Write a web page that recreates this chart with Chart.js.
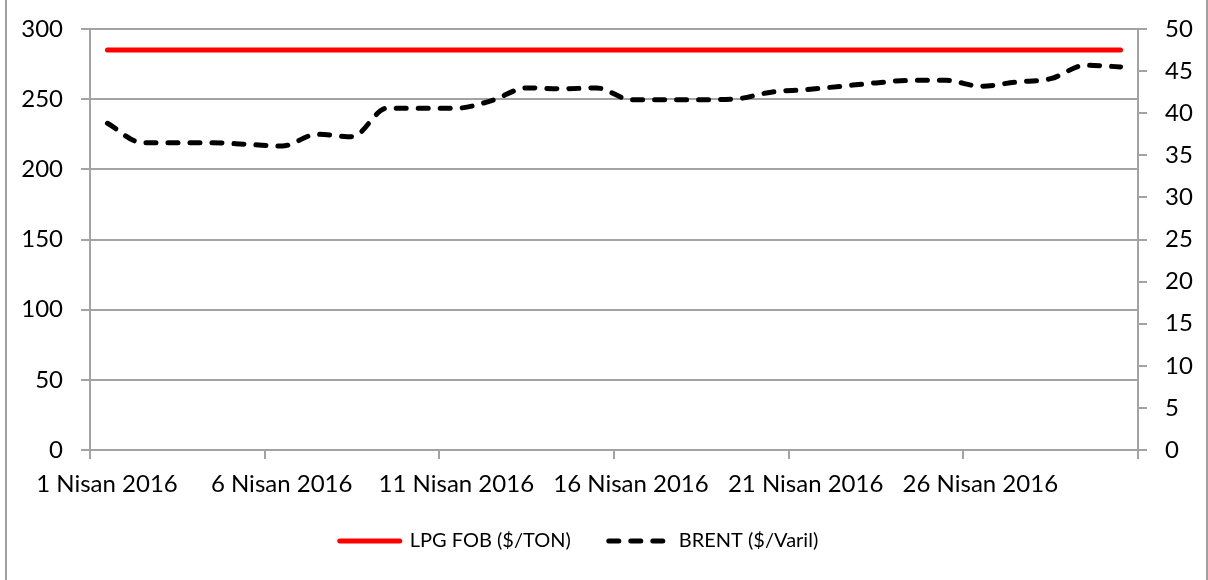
<!DOCTYPE html>
<html>
<head>
<meta charset="utf-8">
<script src="https://cdn.jsdelivr.net/npm/chart.js@4.4.1/dist/chart.umd.min.js"></script>
<style>
  html,body{margin:0;padding:0;background:#fff;}
  #wrap{position:relative;width:1208px;height:580px;}
  #frame{position:absolute;left:5px;top:0;width:1199px;height:580px;border-left:2px solid #a0a0a0;border-right:2px solid #a0a0a0;pointer-events:none;}
</style>
</head>
<body>
<div id="wrap">
  <canvas id="chart" width="1208" height="580"></canvas>
  <div id="frame"></div>
</div>
<script>
  // Nisan 2016, one value per day
  const days = [1,2,3,4,5,6,7,8,9,10,11,12,13,14,15,16,17,18,19,20,21,22,23,24,25,26,27,28,29,30];
  const lpgFob = [285,285,285,285,285,285,285,285,285,285,285,285,285,285,285,285,285,285,285,285,285,285,285,285,285,285,285,285,285,285];
  const brent = [38.8,36.5,36.5,36.5,36.3,36.1,37.5,37.2,40.6,40.6,40.6,41.5,43.0,42.9,43.0,41.6,41.6,41.6,41.7,42.5,42.8,43.2,43.6,43.9,43.9,43.2,43.7,44.1,45.7,45.5];
  const seriesNames = ['LPG FOB ($/TON)', 'BRENT ($/Varil)'];
  const monthLabel = 'Nisan 2016';

  const font = { family: "Lato, 'Open Sans', sans-serif", size: 24 };
  const legendFont = { family: font.family, size: 20 };
  const gridColor = '#a3a3a3';

  const toPoints = (vals)=> days.map((d,i)=> ({ x: d - 0.5, y: vals[i] }));

  // default legend labels lose the dash when usePointStyle is on, put it back
  function legendLabels(chart){
    const base = Chart.defaults.plugins.legend.labels.generateLabels(chart);
    return base.map(l=>{
      const ds = chart.data.datasets[l.datasetIndex];
      return Object.assign(l, { lineDash: ds.borderDash || [], lineCap: 'round', lineWidth: 5, strokeStyle: ds.borderColor });
    });
  }

  // legend sits a bit left of the canvas centre in the original
  const legendShift = {
    id: 'legendShift',
    afterLayout(chart){ if(chart.legend){ chart.legend.right -= 50; } }
  };

  // fixed axis width, and no extra room asked for above/below the end labels
  const fitY = (w)=> (s)=>{ s.width = w; s.paddingTop = 0; s.paddingBottom = 0; };

  new Chart(document.getElementById('chart'), {
    type: 'line',
    plugins: [legendShift],
    data: {
      datasets: [
        {
          label: seriesNames[0],
          data: toPoints(lpgFob),
          yAxisID: 'y',
          borderColor: '#ff0000',
          backgroundColor: '#ff0000',
          borderWidth: 5,
          borderCapStyle: 'round',
          pointRadius: 0,
          tension: 0
        },
        {
          label: seriesNames[1],
          data: toPoints(brent),
          yAxisID: 'y1',
          borderColor: '#000000',
          backgroundColor: '#000000',
          borderWidth: 5,
          borderDash: [10, 12],
          borderCapStyle: 'round',
          pointRadius: 0,
          cubicInterpolationMode: 'monotone'
        }
      ]
    },
    options: {
      responsive: false,
      animation: false,
      layout: { padding: { top: 29, left: 0, right: 0, bottom: 19 } },
      plugins: {
        tooltip: { enabled: false },
        legend: {
          position: 'bottom',
          labels: {
            color: '#000',
            font: legendFont,
            usePointStyle: true,
            pointStyle: 'line',
            pointStyleWidth: 60,
            padding: 38,
            generateLabels: legendLabels
          }
        }
      },
      scales: {
        x: {
          type: 'linear',
          min: 0,
          max: 30,
          afterFit: (s)=>{ s.height = 43; },
          border: { color: gridColor, width: 2 },
          grid: { drawOnChartArea: false, drawTicks: true, tickLength: 9, color: gridColor, lineWidth: 2 },
          ticks: {
            stepSize: 5,
            autoSkip: false,
            maxRotation: 0,
            padding: 11,
            labelOffset: 17,
            color: '#000',
            font,
            callback: (v)=> v >= 30 ? '' : `${v + 1} ${monthLabel}`
          }
        },
        y: {
          position: 'left',
          min: 0,
          max: 300,
          afterFit: fitY(90),
          border: { color: gridColor, width: 2 },
          grid: { color: gridColor, lineWidth: 2, tickLength: 9 },
          ticks: { stepSize: 50, padding: 18, color: '#000', font }
        },
        y1: {
          position: 'right',
          min: 0,
          max: 50,
          afterFit: fitY(70),
          border: { color: gridColor, width: 2 },
          grid: { drawOnChartArea: false, color: gridColor, lineWidth: 2, tickLength: 9 },
          ticks: { stepSize: 5, padding: 18, color: '#000', font }
        }
      }
    }
  });
</script>
</body>
</html>
